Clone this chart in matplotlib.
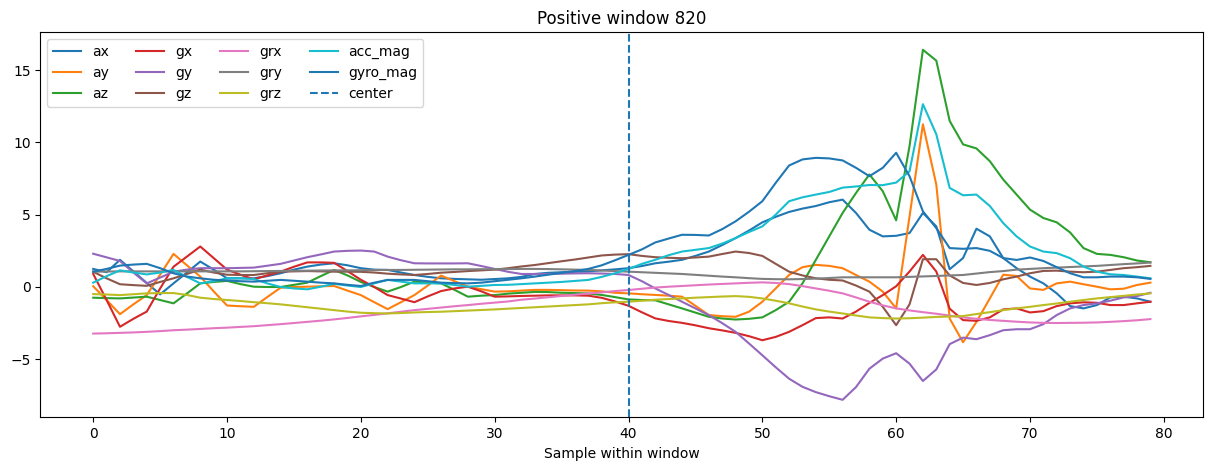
import matplotlib
matplotlib.use("Agg")
import matplotlib.pyplot as plt
import numpy as np

# sample index within window
samples = np.arange(80)

ax_v = [1.25, 1.02, 1.88, 1.08, 0.28, -0.51, 0.25, 1.0, 1.76, 1.2,
        0.6, 0.6, 0.6, 0.75, 0.95, 1.2, 1.41, 1.55, 1.64, 1.5,
        1.3, 1.2, 1.18, 1.0, 0.83, 0.7, 0.6, 0.56, 0.53, 0.5,
        0.55, 0.6, 0.7, 0.9, 0.98, 1.02, 1.05, 1.08, 1.15, 1.22,
        1.3, 1.45, 1.64, 1.75, 1.88, 2.15, 2.45, 2.9, 3.38, 3.9,
        4.47, 4.85, 5.19, 5.42, 5.6, 5.86, 6.04, 5.12, 3.96, 3.5,
        3.54, 3.73, 5.12, 4.19, 1.23, 2.0, 4.03, 3.5, 2.0, 1.3,
        0.72, 0.25, -0.44, -1.32, -1.48, -1.25, -0.72, -0.67, -0.79, -1.02]

ay_v = [0.05, -0.9, -1.88, -1.2, -0.56, 0.85, 2.29, 1.5, 0.72, -0.3,
        -1.28, -1.33, -1.37, -0.7, -0.05, 0.0, 0.02, 0.05, 0.07, -0.25,
        -0.56, -1.05, -1.53, -1.05, -0.56, 0.1, 0.79, 0.4, 0.02, -0.15,
        -0.32, -0.3, -0.25, -0.2, -0.2, -0.22, -0.24, -0.25, -0.3, -0.4,
        -0.44, -0.5, -0.55, -0.6, -0.67, -1.3, -1.94, -2.02, -2.06, -1.71,
        -1.02, -0.1, 0.83, 1.37, 1.53, 1.46, 1.3, 0.83, 0.37, -0.32,
        -1.48, 4.88, 11.25, 7.08, -2.18, -3.82, -2.41, -0.79, 0.85, 0.76,
        -0.1, -0.2, 0.25, 0.37, 0.19, 0.02, -0.16, -0.12, 0.14, 0.3]

az_v = [-0.74, -0.77, -0.79, -0.73, -0.67, -0.9, -1.13, -0.45, 0.25, 0.35,
        0.42, 0.2, 0.02, 0.0, 0.0, 0.15, 0.3, 0.75, 1.18, 0.8,
        0.35, 0.0, -0.32, 0.0, 0.37, 0.3, 0.25, -0.2, -0.67, -0.6,
        -0.56, -0.46, -0.4, -0.34, -0.35, -0.4, -0.42, -0.45, -0.55, -0.7,
        -0.86, -0.9, -0.92, -1.2, -1.48, -1.77, -2.06, -2.18, -2.25, -2.2,
        -2.1, -1.6, -1.02, 0.25, 1.88, 3.5, 5.12, 6.5, 7.78, 6.62,
        4.61, 9.74, 16.4, 15.65, 11.48, 9.86, 9.58, 8.7, 7.43, 6.39,
        5.35, 4.77, 4.47, 3.77, 2.69, 2.29, 2.22, 2.06, 1.83, 1.71]

gx_v = [0.9, -0.9, -2.75, -2.2, -1.7, -0.1, 1.4, 2.1, 2.8, 2.0,
        1.2, 0.85, 0.53, 0.8, 1.06, 1.4, 1.7, 1.7, 1.67, 1.1,
        0.5, 0.0, -0.56, -0.8, -1.05, -0.65, -0.28, -0.1, 0.02, -0.3,
        -0.67, -0.65, -0.62, -0.6, -0.58, -0.58, -0.58, -0.6, -0.75, -1.0,
        -1.3, -1.75, -2.17, -2.35, -2.48, -2.65, -2.85, -3.0, -3.17, -3.4,
        -3.68, -3.45, -3.1, -2.64, -2.15, -2.1, -2.18, -1.7, -1.1, -0.56,
        0.05, 1.07, 2.22, 1.07, -1.5, -2.29, -2.34, -2.1, -1.55, -1.48,
        -1.76, -1.67, -1.32, -1.13, -1.06, -1.09, -1.25, -1.25, -1.13, -1.02]

gy_v = [2.3, 2.05, 1.8, 1.0, 0.25, 0.65, 1.06, 1.2, 1.3, 1.3,
        1.3, 1.32, 1.34, 1.47, 1.6, 1.83, 2.06, 2.25, 2.45, 2.5,
        2.52, 2.45, 2.1, 1.85, 1.64, 1.63, 1.63, 1.63, 1.64, 1.45,
        1.25, 1.05, 0.9, 0.9, 0.9, 0.92, 0.94, 0.95, 0.93, 0.9,
        0.83, 0.4, -0.1, -0.55, -1.02, -1.48, -1.94, -2.5, -3.1, -3.9,
        -4.72, -5.55, -6.34, -6.9, -7.27, -7.55, -7.8, -6.92, -5.65, -4.95,
        -4.58, -5.3, -6.5, -5.7, -3.95, -3.5, -3.61, -3.33, -2.99, -2.92,
        -2.92, -2.57, -1.94, -1.48, -1.25, -1.13, -0.95, -0.72, -0.63, -0.4]

gz_v = [1.05, 0.6, 0.19, 0.13, 0.08, 0.35, 0.6, 0.9, 1.2, 1.0,
        0.85, 0.83, 0.83, 0.95, 1.06, 1.08, 1.1, 1.08, 1.06, 1.06,
        1.05, 1.0, 0.92, 0.87, 0.83, 0.9, 0.99, 1.04, 1.1, 1.15,
        1.2, 1.3, 1.42, 1.52, 1.65, 1.78, 1.9, 2.04, 2.18, 2.24,
        2.27, 2.15, 2.06, 2.02, 1.99, 2.04, 2.1, 2.28, 2.45, 2.35,
        2.15, 1.6, 1.06, 0.8, 0.6, 0.5, 0.45, 0.1, -0.32, -1.37,
        -2.64, -1.2, 1.92, 1.92, 0.8, 0.28, 0.14, 0.28, 0.53, 0.72,
        0.95, 1.11, 1.13, 1.06, 1.02, 1.06, 1.18, 1.3, 1.37, 1.46]

grx_v = [-3.22, -3.2, -3.17, -3.14, -3.1, -3.05, -2.99, -2.95, -2.9, -2.85,
         -2.81, -2.76, -2.71, -2.64, -2.57, -2.49, -2.41, -2.33, -2.24, -2.14,
         -2.03, -1.93, -1.82, -1.71, -1.6, -1.51, -1.42, -1.33, -1.25, -1.16,
         -1.08, -1.0, -0.88, -0.8, -0.71, -0.62, -0.53, -0.45, -0.37, -0.28,
         -0.21, -0.12, -0.04, 0.02, 0.07, 0.12, 0.17, 0.21, 0.25, 0.29,
         0.32, 0.28, 0.2, 0.06, -0.1, -0.26, -0.44, -0.72, -1.02, -1.27,
         -1.48, -1.62, -1.74, -1.85, -1.98, -2.1, -2.2, -2.28, -2.34, -2.4,
         -2.45, -2.48, -2.49, -2.48, -2.47, -2.45, -2.41, -2.36, -2.3, -2.22]

gry_v = [1.06, 1.07, 1.08, 1.08, 1.08, 1.08, 1.08, 1.08, 1.08, 1.08,
         1.08, 1.08, 1.09, 1.1, 1.11, 1.12, 1.13, 1.14, 1.15, 1.15,
         1.16, 1.17, 1.18, 1.18, 1.19, 1.2, 1.21, 1.22, 1.22, 1.23,
         1.23, 1.24, 1.25, 1.25, 1.24, 1.22, 1.2, 1.18, 1.14, 1.1,
         1.06, 1.02, 0.98, 0.94, 0.9, 0.84, 0.78, 0.72, 0.67, 0.61,
         0.56, 0.54, 0.53, 0.55, 0.58, 0.62, 0.67, 0.67, 0.67, 0.67,
         0.67, 0.7, 0.73, 0.76, 0.8, 0.83, 0.93, 1.03, 1.1, 1.2,
         1.25, 1.3, 1.34, 1.38, 1.42, 1.46, 1.52, 1.58, 1.63, 1.69]

grz_v = [-0.49, -0.52, -0.56, -0.5, -0.44, -0.42, -0.42, -0.55, -0.74, -0.83,
         -0.9, -0.97, -1.05, -1.12, -1.2, -1.3, -1.4, -1.5, -1.6, -1.7,
         -1.78, -1.81, -1.83, -1.8, -1.76, -1.73, -1.71, -1.67, -1.63, -1.59,
         -1.55, -1.5, -1.45, -1.4, -1.35, -1.3, -1.25, -1.2, -1.12, -1.06,
         -1.02, -0.95, -0.88, -0.83, -0.79, -0.74, -0.7, -0.66, -0.63, -0.68,
         -0.79, -0.95, -1.13, -1.35, -1.55, -1.7, -1.83, -1.97, -2.1, -2.15,
         -2.18, -2.16, -2.12, -2.07, -2.04, -2.01, -1.87, -1.74, -1.6, -1.48,
         -1.37, -1.25, -1.14, -1.02, -0.9, -0.79, -0.7, -0.61, -0.52, -0.44]

acc_mag_v = [0.3, 0.75, 1.15, 1.0, 0.87, 1.0, 1.18, 0.7, 0.25, 0.4,
             0.6, 0.6, 0.55, 0.25, 0.0, -0.1, -0.16, 0.02, 0.22, 0.1,
             0.0, 0.25, 0.49, 0.37, 0.25, 0.25, 0.25, 0.14, 0.02, 0.08,
             0.14, 0.15, 0.2, 0.25, 0.3, 0.35, 0.42, 0.49, 0.7, 0.95,
             1.25, 1.6, 1.88, 2.2, 2.45, 2.57, 2.69, 3.0, 3.38, 3.8,
             4.19, 5.0, 5.93, 6.2, 6.39, 6.57, 6.87, 6.95, 7.05, 7.04,
             7.22, 8.0, 12.64, 10.56, 6.85, 6.34, 6.39, 5.6, 4.42, 3.5,
             2.8, 2.45, 2.34, 1.99, 1.41, 1.06, 0.88, 0.83, 0.72, 0.6]

gyro_mag_v = [1.06, 1.25, 1.48, 1.55, 1.6, 1.3, 0.95, 0.72, 0.6, 0.5,
              0.45, 0.4, 0.37, 0.43, 0.49, 0.43, 0.37, 0.3, 0.25, 0.15,
              0.07, 0.3, 0.49, 0.49, 0.49, 0.4, 0.3, 0.27, 0.25, 0.3,
              0.4, 0.5, 0.6, 0.72, 0.85, 0.98, 1.1, 1.25, 1.5, 1.85,
              2.22, 2.6, 3.08, 3.35, 3.61, 3.6, 3.56, 4.0, 4.54, 5.2,
              5.93, 7.2, 8.4, 8.82, 8.93, 8.89, 8.75, 8.24, 7.66, 8.24,
              9.28, 7.66, 5.23, 4.07, 2.69, 2.64, 2.69, 2.5, 2.0, 1.87,
              2.04, 1.8, 1.37, 0.95, 0.67, 0.67, 0.72, 0.72, 0.67, 0.56]

channels = ["ax", "ay", "az", "gx", "gy", "gz", "grx", "gry", "grz", "acc_mag", "gyro_mag"]
series = [ax_v, ay_v, az_v, gx_v, gy_v, gz_v, grx_v, gry_v, grz_v, acc_mag_v, gyro_mag_v]
center = 40
window_id = 820

fig, ax = plt.subplots(figsize=(12.12, 4.7), dpi=100)
for name, vals in zip(channels, series):
    ax.plot(samples, vals, label=name)
ax.axvline(center, linestyle="--", label="center")

ax.set_title(f"Positive window {window_id}")
ax.set_xlabel("Sample within window")
ax.legend(loc="upper left", ncol=4)

plt.subplots_adjust(left=0.0333, right=0.9928, top=0.9313, bottom=0.1121)
plt.savefig("out.png")
